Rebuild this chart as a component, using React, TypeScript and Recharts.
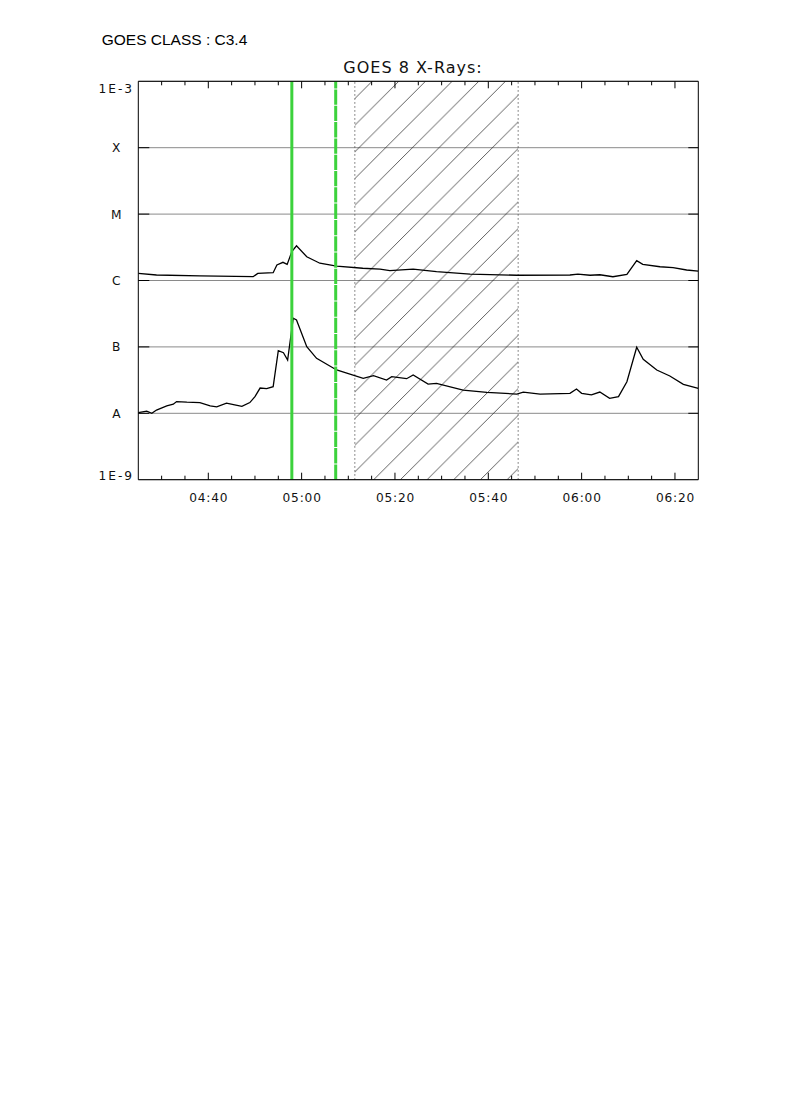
import React from 'react';
import { LineChart, Line, XAxis, YAxis, CartesianGrid, ReferenceLine, ReferenceArea } from 'recharts';

// Time in minutes since 00:00 UT
const upperT = [265.0, 268.9, 278.2, 289.6, 290.6, 293.9, 294.7, 296.0, 296.9, 297.9, 298.9, 301.1, 303.9, 307.5, 313.1, 316.8, 318.9, 323.9, 328.9, 336.1, 346.1, 357.5, 359.2, 361.8, 363.9, 366.7, 369.7, 371.8, 373.1, 376.8, 379.6, 382.5, 385.0];
const upperFlux = [1.28e-6, 1.21e-6, 1.17e-6, 1.14e-6, 1.28e-6, 1.31e-6, 1.71e-6, 1.88e-6, 1.75e-6, 2.72e-6, 3.34e-6, 2.28e-6, 1.82e-6, 1.65e-6, 1.53e-6, 1.48e-6, 1.41e-6, 1.48e-6, 1.36e-6, 1.25e-6, 1.2e-6, 1.21e-6, 1.25e-6, 1.2e-6, 1.22e-6, 1.14e-6, 1.24e-6, 1.99e-6, 1.75e-6, 1.61e-6, 1.56e-6, 1.44e-6, 1.38e-6];

const lowerT = [265.0, 266.8, 267.9, 268.9, 271.1, 272.5, 273.2, 275.4, 278.2, 280.4, 281.8, 283.9, 285.4, 287.2, 288.9, 290.0, 291.1, 292.5, 293.9, 295.0, 296.1, 297.0, 298.2, 298.9, 301.1, 303.2, 307.5, 313.2, 315.4, 318.2, 319.3, 322.5, 323.9, 327.1, 328.9, 334.6, 339.7, 346.1, 347.5, 351.1, 357.5, 358.9, 360.0, 362.1, 363.9, 366.0, 367.9, 369.7, 371.8, 373.2, 376.1, 378.9, 381.8, 385.0];
const lowerFlux = [1.02e-8, 1.08e-8, 1.0e-8, 1.12e-8, 1.29e-8, 1.37e-8, 1.5e-8, 1.47e-8, 1.45e-8, 1.29e-8, 1.25e-8, 1.42e-8, 1.35e-8, 1.27e-8, 1.45e-8, 1.78e-8, 2.4e-8, 2.35e-8, 2.52e-8, 8.78e-8, 8.18e-8, 6.35e-8, 2.7e-7, 2.54e-7, 1.01e-7, 6.73e-8, 4.49e-8, 3.37e-8, 3.68e-8, 3.17e-8, 3.56e-8, 3.32e-8, 3.78e-8, 2.76e-8, 2.83e-8, 2.24e-8, 2.07e-8, 1.95e-8, 2.09e-8, 1.95e-8, 2.0e-8, 2.32e-8, 2.0e-8, 1.89e-8, 2.09e-8, 1.68e-8, 1.78e-8, 2.99e-8, 9.86e-8, 6.5e-8, 4.49e-8, 3.65e-8, 2.73e-8, 2.38e-8];

const xDomain = [265, 385];
const xTicks = [270, 275, 280, 285, 290, 295, 300, 305, 310, 315, 320, 325, 330, 335, 340, 345, 350, 355, 360, 365, 370, 375, 380];
const xMajorTicks = [280, 300, 320, 340, 360, 380];

const yTickValues = [1e-9, 1e-8, 1e-7, 1e-6, 1e-5, 1e-4, 1e-3];
const yTickLabels = ['1E-9', 'A', 'B', 'C', 'M', 'X', '1E-3'];

const flareStart = 297.9;
const flareEnd = 307.3;
const hatchStart = 311.4;
const hatchEnd = 346.4;

const titleText = 'GOES 8 X-Rays:';
const classText = 'GOES CLASS : C3.4';

const upperData = upperT.map((t, i) => ({ t, flux: upperFlux[i] }));
const lowerData = lowerT.map((t, i) => ({ t, flux: lowerFlux[i] }));

const GREEN = '#3cd23c';
const TICK_FONT = '"DejaVu Sans", sans-serif';

const fmtTime = (m: number) => {
  const h = Math.floor(m / 60);
  const mm = Math.round(m - h * 60);
  return `${String(h).padStart(2, '0')}:${String(mm).padStart(2, '0')}`;
};

const BottomTick = (props: any) => {
  const { x, y, payload } = props;
  const v = payload.value;
  const major = xMajorTicks.includes(v);
  return (
    <g>
      <line x1={x} x2={x} y1={y} y2={y - (major ? 7 : 4)} stroke="#000" strokeWidth={1} />
      {major && (
        <text x={x + 0.5} y={y + 22.5} textAnchor="middle" fontFamily={TICK_FONT} fontSize={12.2} letterSpacing={0.8} fill="#111">
          {fmtTime(v)}
        </text>
      )}
    </g>
  );
};

const TopTick = (props: any) => {
  const { x, y, payload } = props;
  const major = xMajorTicks.includes(payload.value);
  return <line x1={x} x2={x} y1={y} y2={y + (major ? 7 : 4)} stroke="#000" strokeWidth={1} />;
};

const LeftTick = (props: any) => {
  const { x, y, index } = props;
  const n = yTickValues.length;
  const label = yTickLabels[index];
  let by = y + 4.5;
  if (index === n - 1) by = y + 12;
  if (index === 0) by = y;
  return (
    <g>
      {index > 0 && index < n - 1 && <line x1={x} x2={x + 11} y1={y} y2={y} stroke="#000" strokeWidth={1} />}
      <text x={x - 22} y={by} textAnchor="middle" fontFamily={TICK_FONT} fontSize={12.2} letterSpacing={label.length > 1 ? 2 : 0} fill="#111">
        {label}
      </text>
    </g>
  );
};

const RightTick = (props: any) => {
  const { x, y, index } = props;
  const n = yTickValues.length;
  if (index === 0 || index === n - 1) return <g />;
  return <line x1={x} x2={x - 10} y1={y} y2={y} stroke="#000" strokeWidth={1} />;
};

export default function App() {
  return (
    <div style={{ position: 'absolute', left: 0, top: 0, width: 790, height: 1118, background: '#fff' }}>
      <svg width={0} height={0} style={{ position: 'absolute' }}>
        <defs>
          <pattern id="hatch" patternUnits="userSpaceOnUse" width={26.67} height={26.67}>
            <line x1={-1} y1={27.67} x2={27.67} y2={-1} stroke="#1a1a1a" strokeWidth={0.7} />
            <line x1={-2} y1={2} x2={2} y2={-2} stroke="#1a1a1a" strokeWidth={0.7} />
            <line x1={24.67} y1={28.67} x2={28.67} y2={24.67} stroke="#1a1a1a" strokeWidth={0.7} />
          </pattern>
        </defs>
      </svg>
      <div style={{ position: 'absolute', left: 0, top: 0 }}>
        <LineChart width={790} height={560} margin={{ top: 71.3, left: 78.3, right: 81.7, bottom: 50.3 }}>
          <CartesianGrid vertical={false} stroke="#8a8a8a" strokeWidth={1} />
          <XAxis
            dataKey="t"
            type="number"
            domain={xDomain}
            ticks={xTicks}
            interval={0}
            allowDataOverflow
            height={30}
            tickSize={0}
            tickMargin={0}
            tickLine={false}
            axisLine={{ stroke: '#000', strokeWidth: 1 }}
            tick={(p: any) => <BottomTick {...p} />}
          />
          <XAxis
            xAxisId="top"
            orientation="top"
            dataKey="t"
            type="number"
            domain={xDomain}
            ticks={xTicks}
            interval={0}
            allowDataOverflow
            height={10}
            tickSize={0}
            tickMargin={0}
            tickLine={false}
            axisLine={{ stroke: '#000', strokeWidth: 1 }}
            tick={(p: any) => <TopTick {...p} />}
          />
          <YAxis
            scale="log"
            type="number"
            domain={[1e-9, 1e-3]}
            ticks={yTickValues}
            interval={0}
            allowDataOverflow
            width={60}
            tickSize={0}
            tickMargin={0}
            tickLine={false}
            axisLine={{ stroke: '#000', strokeWidth: 1 }}
            tick={(p: any) => <LeftTick {...p} />}
          />
          <YAxis
            yAxisId="right"
            orientation="right"
            scale="log"
            type="number"
            domain={[1e-9, 1e-3]}
            ticks={yTickValues}
            interval={0}
            allowDataOverflow
            width={10}
            tickSize={0}
            tickMargin={0}
            tickLine={false}
            axisLine={{ stroke: '#000', strokeWidth: 1 }}
            tick={(p: any) => <RightTick {...p} />}
          />
          <ReferenceArea x1={hatchStart} x2={hatchEnd} y1={1e-9} y2={1e-3} fill="url(#hatch)" fillOpacity={1} stroke="none" ifOverflow="hidden" />
          <ReferenceLine x={hatchStart} stroke="#444" strokeWidth={0.8} strokeDasharray="1.5 2.5" />
          <ReferenceLine x={hatchEnd} stroke="#444" strokeWidth={0.8} strokeDasharray="1.5 2.5" />
          <Line data={upperData} dataKey="flux" type="linear" stroke="#000" strokeWidth={1.3} dot={false} isAnimationActive={false} />
          <Line data={lowerData} dataKey="flux" type="linear" stroke="#000" strokeWidth={1.3} dot={false} isAnimationActive={false} />
          <ReferenceLine x={flareStart} stroke={GREEN} strokeWidth={3} />
          <ReferenceLine x={flareEnd} stroke={GREEN} strokeWidth={3} strokeDasharray="15.3 1" />
        </LineChart>
      </div>
      <svg width={790} height={100} style={{ position: 'absolute', left: 0, top: 0, pointerEvents: 'none' }}>
        <text x={101.7} y={45} fontFamily='"Liberation Sans", Arial, sans-serif' fontSize={15.5} fill="#000">
          {classText}
        </text>
        <text x={413} y={73.3} textAnchor="middle" fontFamily={TICK_FONT} fontSize={16} letterSpacing={1} fill="#111">
          {titleText}
        </text>
      </svg>
    </div>
  );
}
